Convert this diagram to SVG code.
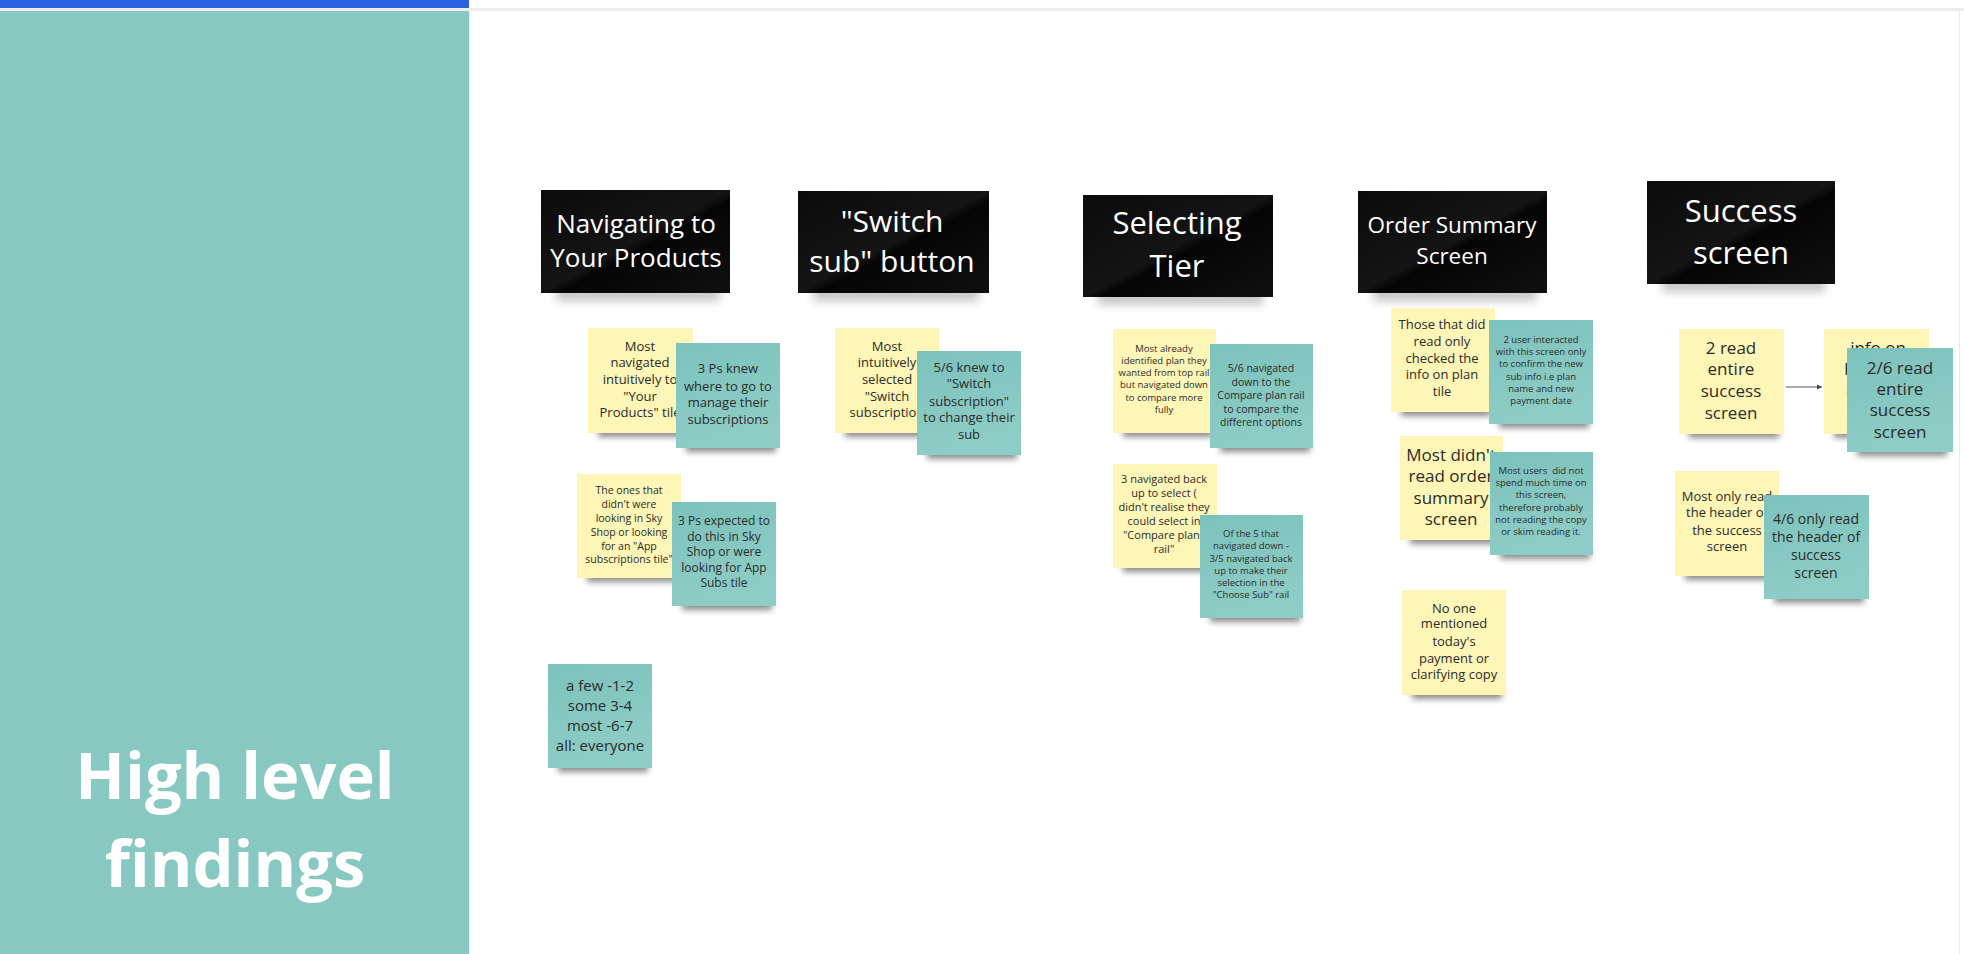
<svg xmlns="http://www.w3.org/2000/svg" width="1964" height="954" viewBox="0 0 1964 954">
<style>
.hd{font-family:"Open Sans","Liberation Sans",sans-serif;fill:#ffffff;text-anchor:middle}
.tx{font-family:"Open Sans","Liberation Sans",sans-serif;fill:#2b2b2b;text-anchor:middle}
.yl{fill:#fdf6b6}
.tl{fill:url(#tg)}
.blk{fill:url(#bg)}
.sh{fill:#000;opacity:0.45;filter:url(#blur)}
.hsh{fill:#000;opacity:0.22;filter:url(#blur2)}
</style>
<defs>
<linearGradient id="tg" x1="0" y1="0" x2="0.3" y2="1">
<stop offset="0" stop-color="#7cc2bc"/>
<stop offset="1" stop-color="#8ecdc6"/>
</linearGradient>
<linearGradient id="bg" x1="0" y1="0" x2="1" y2="1">
<stop offset="0" stop-color="#0b0b0b"/>
<stop offset="0.5" stop-color="#141414"/>
<stop offset="0.55" stop-color="#050505"/>
<stop offset="1" stop-color="#101010"/>
</linearGradient>
<filter id="blur" x="-20%" y="-100%" width="140%" height="300%"><feGaussianBlur stdDeviation="3"/></filter>
<filter id="blur2" x="-20%" y="-100%" width="140%" height="300%"><feGaussianBlur stdDeviation="5"/></filter>
<marker id="ah" markerWidth="6" markerHeight="6" refX="5" refY="3" orient="auto" markerUnits="userSpaceOnUse"><path d="M0,0.5 L5,3 L0,5.5 z" fill="#444"/></marker>
</defs>
<rect x="0" y="0" width="1964" height="954" fill="#ffffff"/>
<rect x="0" y="8" width="1964" height="3" fill="#ececec"/>
<line x1="1959.5" y1="10" x2="1959.5" y2="954" stroke="#ececec" stroke-width="1"/>
<rect x="0" y="0" width="469" height="8" fill="#2962e0"/>
<g id="panel">
<rect x="0" y="11" width="469" height="943" fill="#87c8c0"/>
<line x1="469.5" y1="11" x2="469.5" y2="954" stroke="#e3f1ef" stroke-width="1"/>
<text x="235" y="799" font-family="Open Sans, Liberation Sans, sans-serif" font-weight="bold" font-size="65" fill="#ffffff" text-anchor="middle">High level</text>
<text x="235" y="887" font-family="Open Sans, Liberation Sans, sans-serif" font-weight="bold" font-size="65" fill="#ffffff" text-anchor="middle">findings</text>
</g>

<g id="h1">
<rect class="hsh" x="556" y="285" width="164" height="16"/>
<rect class="blk" x="541" y="190" width="189" height="103"/>
<text class="hd" font-size="26" x="636" y="233">Navigating to</text>
<text class="hd" font-size="26" x="636" y="267">Your Products</text>
</g>
<g id="h2">
<rect class="hsh" x="813" y="285" width="166" height="16"/>
<rect class="blk" x="798" y="191" width="191" height="102"/>
<text class="hd" font-size="30" x="892" y="232">"Switch</text>
<text class="hd" font-size="30" x="892" y="272">sub" button</text>
</g>
<g id="h3">
<rect class="hsh" x="1098" y="289" width="165" height="16"/>
<rect class="blk" x="1083" y="195" width="190" height="102"/>
<text class="hd" font-size="31" x="1177" y="234">Selecting</text>
<text class="hd" font-size="31" x="1177" y="277">Tier</text>
</g>
<g id="h4">
<rect class="hsh" x="1373" y="285" width="164" height="16"/>
<rect class="blk" x="1358" y="191" width="189" height="102"/>
<text class="hd" font-size="22.5" x="1452" y="233">Order Summary</text>
<text class="hd" font-size="22.5" x="1452" y="264">Screen</text>
</g>
<g id="h5">
<rect class="hsh" x="1662" y="276" width="163" height="16"/>
<rect class="blk" x="1647" y="181" width="188" height="103"/>
<text class="hd" font-size="31" x="1741" y="222">Success</text>
<text class="hd" font-size="31" x="1741" y="264">screen</text>
</g>

<g id="connectors">
<line x1="1786" y1="387" x2="1822" y2="387" stroke="#555" stroke-width="1" marker-end="url(#ah)"/>
</g>

<g id="y1">
<rect class="sh" x="598" y="425" width="90" height="12"/>
<rect class="yl" x="588" y="328" width="105" height="105"/>
<g class="tx" font-size="13"><text x="640" y="351">Most</text><text x="640" y="367">navigated</text><text x="640" y="384">intuitively to</text><text x="640" y="401">"Your</text><text x="640" y="417">Products" tile</text></g>
</g>
<g id="t1">
<rect class="sh" x="686" y="440" width="90" height="12"/>
<rect class="tl" x="676" y="343" width="104" height="105"/>
<g class="tx" font-size="13"><text x="728" y="373">3 Ps knew</text><text x="728" y="391">where to go to</text><text x="728" y="407">manage their</text><text x="728" y="424">subscriptions</text></g>
</g>
<g id="y2">
<rect class="sh" x="587" y="570" width="90" height="12"/>
<rect class="yl" x="577" y="474" width="104" height="104"/>
<g class="tx" font-size="10.5"><text x="629" y="494">The ones that</text><text x="629" y="508">didn't were</text><text x="629" y="522">looking in Sky</text><text x="629" y="536">Shop or looking</text><text x="629" y="550">for an "App</text><text x="629" y="563">subscriptions tile"</text></g>
</g>
<g id="t2">
<rect class="sh" x="682" y="598" width="90" height="12"/>
<rect class="tl" x="672" y="502" width="104" height="104"/>
<g class="tx" font-size="12"><text x="724" y="525">3 Ps expected to</text><text x="724" y="541">do this in Sky</text><text x="724" y="556">Shop or were</text><text x="724" y="572">looking for App</text><text x="724" y="587">Subs tile</text></g>
</g>
<g id="t12">
<rect class="sh" x="558" y="760" width="90" height="12"/>
<rect class="tl" x="548" y="664" width="104" height="104"/>
<g class="tx" font-size="15"><text x="600" y="691">a few -1-2</text><text x="600" y="711">some 3-4</text><text x="600" y="731">most -6-7</text><text x="600" y="751">all: everyone</text></g>
</g>

<g id="y3">
<rect class="sh" x="845" y="425" width="90" height="12"/>
<rect class="yl" x="835" y="328" width="104" height="105"/>
<g class="tx" font-size="13"><text x="887" y="351">Most</text><text x="887" y="367">intuitively</text><text x="887" y="384">selected</text><text x="887" y="401">"Switch</text><text x="887" y="417">subscription</text></g>
</g>
<g id="t3">
<rect class="sh" x="927" y="447" width="90" height="12"/>
<rect class="tl" x="917" y="351" width="104" height="104"/>
<g class="tx" font-size="13"><text x="969" y="372">5/6 knew to</text><text x="969" y="388">"Switch</text><text x="969" y="406">subscription"</text><text x="969" y="422">to change their</text><text x="969" y="439">sub</text></g>
</g>

<g id="y4">
<rect class="sh" x="1123" y="425" width="90" height="12"/>
<rect class="yl" x="1113" y="329" width="103" height="104"/>
<g class="tx" font-size="9.5"><text x="1164" y="352">Most already</text><text x="1164" y="364">identified plan they</text><text x="1164" y="376">wanted from top rail</text><text x="1164" y="388">but navigated down</text><text x="1164" y="401">to compare more</text><text x="1164" y="413">fully</text></g>
</g>
<g id="t4">
<rect class="sh" x="1220" y="440" width="90" height="12"/>
<rect class="tl" x="1210" y="344" width="103" height="104"/>
<g class="tx" font-size="10.5"><text x="1261" y="371.5">5/6 navigated</text><text x="1261" y="385.5">down to the</text><text x="1261" y="398.5">Compare plan rail</text><text x="1261" y="412.5">to compare the</text><text x="1261" y="425.5">different options</text></g>
</g>
<g id="y5">
<rect class="sh" x="1123" y="560" width="90" height="12"/>
<rect class="yl" x="1113" y="464" width="104" height="104"/>
<g class="tx" font-size="11"><text x="1164" y="483">3 navigated back</text><text x="1164" y="497">up to select (</text><text x="1164" y="511">didn't realise they</text><text x="1164" y="525">could select in</text><text x="1164" y="539">"Compare plans</text><text x="1164" y="553">rail"</text></g>
</g>
<g id="t5">
<rect class="sh" x="1210" y="610" width="90" height="12"/>
<rect class="tl" x="1200" y="515" width="103" height="103"/>
<g class="tx" font-size="9.5"><text x="1251" y="537">Of the 5 that</text><text x="1251" y="549">navigated down -</text><text x="1251" y="562">3/5 navigated back</text><text x="1251" y="574">up to make their</text><text x="1251" y="586">selection in the</text><text x="1251" y="598">"Choose Sub" rail</text></g>
</g>

<g id="y6">
<rect class="sh" x="1401" y="404" width="90" height="12"/>
<rect class="yl" x="1391" y="308" width="104" height="104"/>
<g class="tx" font-size="13"><text x="1442" y="329">Those that did</text><text x="1442" y="346">read only</text><text x="1442" y="363">checked the</text><text x="1442" y="379">info on plan</text><text x="1442" y="396">tile</text></g>
</g>
<g id="t6">
<rect class="sh" x="1499" y="416" width="90" height="12"/>
<rect class="tl" x="1489" y="320" width="104" height="104"/>
<g class="tx" font-size="9.5"><text x="1541" y="343">2 user interacted</text><text x="1541" y="355">with this screen only</text><text x="1541" y="367">to confirm the new</text><text x="1541" y="380">sub info i.e plan</text><text x="1541" y="392">name and new</text><text x="1541" y="404">payment date</text></g>
</g>
<g id="y7">
<rect class="sh" x="1410" y="532" width="90" height="12"/>
<rect class="yl" x="1400" y="436" width="103" height="104"/>
<g class="tx" font-size="17"><text x="1451" y="461">Most didn't</text><text x="1451" y="482">read order</text><text x="1451" y="504">summary</text><text x="1451" y="525">screen</text></g>
</g>
<g id="t7">
<rect class="sh" x="1500" y="547" width="90" height="12"/>
<rect class="tl" x="1490" y="452" width="103" height="103"/>
<g class="tx" font-size="9.5"><text x="1541" y="474">Most users&#160; did not</text><text x="1541" y="486">spend much time on</text><text x="1541" y="498">this screen,</text><text x="1541" y="511">therefore probably</text><text x="1541" y="523">not reading the copy</text><text x="1541" y="535">or skim reading it.</text></g>
</g>
<g id="y8">
<rect class="sh" x="1412" y="687" width="90" height="12"/>
<rect class="yl" x="1402" y="590" width="104" height="105"/>
<g class="tx" font-size="13"><text x="1454" y="613">No one</text><text x="1454" y="628">mentioned</text><text x="1454" y="646">today's</text><text x="1454" y="663">payment or</text><text x="1454" y="679">clarifying copy</text></g>
</g>

<g id="y9">
<rect class="sh" x="1689" y="426" width="90" height="12"/>
<rect class="yl" x="1679" y="329" width="105" height="105"/>
<g class="tx" font-size="17"><text x="1731" y="354">2 read</text><text x="1731" y="375">entire</text><text x="1731" y="397">success</text><text x="1731" y="419">screen</text></g>
</g>
<g id="y10">
<rect class="sh" x="1834" y="426" width="90" height="12"/>
<rect class="yl" x="1824" y="329" width="105" height="105"/>
<text class="tx" font-size="17" x="1878" y="354">info on</text>
<text class="tx" font-size="17" x="1844" y="375" style="text-anchor:start">P</text>
<text class="tx" font-size="17" x="1846" y="397" style="text-anchor:start">d</text>
</g>
<g id="t10">
<rect class="sh" x="1857" y="444" width="90" height="12"/>
<rect class="tl" x="1847" y="348" width="106" height="104"/>
<g class="tx" font-size="17"><text x="1900" y="374">2/6 read</text><text x="1900" y="395">entire</text><text x="1900" y="416">success</text><text x="1900" y="438">screen</text></g>
</g>
<g id="y11">
<rect class="sh" x="1685" y="568" width="90" height="12"/>
<rect class="yl" x="1675" y="471" width="104" height="105"/>
<g class="tx" font-size="13"><text x="1727" y="501">Most only read</text><text x="1727" y="517">the header of</text><text x="1727" y="535">the success</text><text x="1727" y="551">screen</text></g>
</g>
<g id="t11">
<rect class="sh" x="1774" y="591" width="90" height="12"/>
<rect class="tl" x="1764" y="495" width="105" height="104"/>
<g class="tx" font-size="14"><text x="1816" y="524">4/6 only read</text><text x="1816" y="542">the header of</text><text x="1816" y="560">success</text><text x="1816" y="578">screen</text></g>
</g>
</svg>
